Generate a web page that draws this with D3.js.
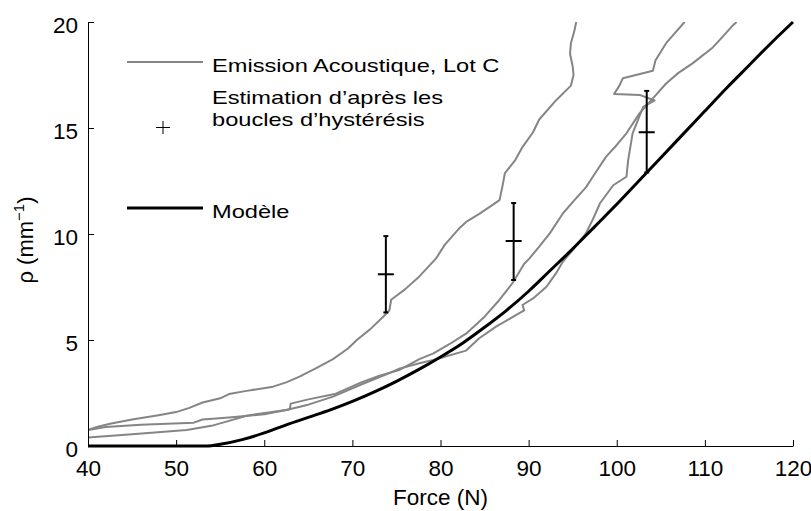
<!DOCTYPE html>
<html>
<head>
<meta charset="utf-8">
<script src="https://cdn.jsdelivr.net/npm/d3@7.9.0/dist/d3.min.js"></script>
<style>
  body { margin: 0; background: #fff; }
  svg { display: block; font-family: "Liberation Sans", Arial, sans-serif; }
</style>
</head>
<body>
<svg id="chart" width="811" height="511"></svg>
<script>
// axis ticks
const forceTicks = [40, 50, 60, 70, 80, 90, 100, 110, 120];
const rhoTicks = [0, 5, 10, 15, 20];

// acoustic emission curves, [force, rho]
const curveA = [[40,0.75],[41,0.9],[42.5,1.05],[45,1.25],[48,1.45],[50,1.6],[51.5,1.8],[53,2.05],[55,2.25],[56,2.45],
  [58,2.6],[61,2.8],[62.5,3.0],[64,3.27],[66,3.7],[67.8,4.1],[69.5,4.6],[70.5,5.0],[72,5.5],[73.5,6.1],[74.2,6.4],
  [74.4,6.9],[76,7.4],[77.6,8.0],[79.5,8.85],[80.5,9.5],[82.2,10.3],[83,10.6],[84.4,10.95],[86,11.4],[86.7,11.6],
  [87.1,12.4],[87.3,12.86],[88.5,13.5],[89.3,14.1],[90.5,14.8],[91.2,15.4],[93.1,16.3],[94.8,17.0],[95.1,17.5],
  [95.0,17.9],[94.7,18.5],[94.8,19.0],[95.2,19.6],[95.4,20]];
const curveB = [[40,0.75],[42,0.9],[46,1.0],[52,1.1],[53,1.25],[56,1.35],[60,1.5],[62.9,1.73],[63,2.0],[65,2.2],
  [68,2.45],[71,3.0],[73,3.3],[75.4,3.6],[77.6,4.1],[79.2,4.37],[81,4.8],[82.9,5.3],[85,6.1],[86.7,6.9],[88.2,7.7],
  [89.5,8.6],[90.1,8.85],[91.2,9.4],[92.4,10.03],[93.9,10.98],[95.2,11.6],[96.5,12.2],[97.6,12.9],[98.8,13.65],
  [100,14.2],[101.1,14.75],[102.6,15.7],[104.1,16.4],[105.6,17.1],[107,17.6],[108.6,18.05],[110.9,18.8],
  [112,19.3],[113.2,19.85],[113.6,20]];
const curveC = [[40,0.4],[45,0.55],[51.2,0.75],[54,0.95],[55.7,1.15],[58,1.43],[62.5,1.7],[65,1.95],[67.8,2.33],
  [71,2.9],[74,3.4],[75.4,3.66],[77.6,3.9],[79.2,4.06],[82.9,4.5],[84.4,5.08],[86.3,5.63],[88.6,6.18],[89.5,6.4],
  [89.3,6.65],[90.5,6.96],[92,7.5],[93.1,8.14],[93.9,8.7],[95,9.25],[96.5,10.03],[97.3,10.7],[98.1,11.45],
  [99.6,12.3],[101.1,12.7],[101.3,13.5],[101.8,14.75],[103,16.0],[104.3,16.3],[102.6,16.56],[99.7,16.6],
  [100.3,17.0],[100.7,17.35],[104.1,17.7],[104.4,18.2],[105.6,19.0],[107.7,20]];

// model curve
const modelForce = [40, 53.5, 55, 57.5, 60, 62.5, 65, 67.5, 70, 72.5, 75, 77.5, 80, 82.5, 85, 87.5, 90, 92.5, 95,
  97.5, 100, 102.5, 105, 107.5, 110, 112.5, 115, 117.5, 120];
const modelRho = [0, 0, 0.08, 0.3, 0.62, 1.0, 1.35, 1.7, 2.1, 2.55, 3.05, 3.6, 4.2, 4.85, 5.6, 6.4, 7.3, 8.3, 9.3,
  10.35, 11.4, 12.5, 13.6, 14.7, 15.8, 16.9, 17.95, 19.0, 20];

// estimates from the hysteresis loops
const estForce = [73.8, 88.3, 103.4];
const estRho = [8.1, 9.67, 14.8];
const estLow = [6.3, 7.83, 12.9];
const estHigh = [9.9, 11.46, 16.75];

const legendLabels = ["Emission Acoustique, Lot C", ["Estimation d\u2019après les", "boucles d\u2019hystérésis"], "Modèle"];

const svg = d3.select('#chart');
const x = d3.scaleLinear().domain([40, 120]).range([88, 793]);
const y = d3.scaleLinear().domain([0, 20]).range([446, 22]);

svg.append('clipPath').attr('id', 'plot-clip')
  .append('rect').attr('x', 88).attr('y', 22).attr('width', 705).attr('height', 424);

const plot = svg.append('g').attr('clip-path', 'url(#plot-clip)');
const line = d3.line().x(d => x(d[0])).y(d => y(d[1]));

[curveA, curveB, curveC].forEach(c => {
  plot.append('path')
    .attr('d', line(c))
    .attr('fill', 'none')
    .attr('stroke', '#858585')
    .attr('stroke-width', 2)
    .attr('stroke-linejoin', 'round');
});

const model = modelForce.map((f, i) => [f, modelRho[i]]);
svg.append('path')
  .attr('d', d3.line().x(d => x(d[0])).y(d => y(d[1])).curve(d3.curveMonotoneX)(model))
  .attr('fill', 'none')
  .attr('stroke', '#000')
  .attr('stroke-width', 3);

// error bars with + marks
const bars = svg.append('g').attr('stroke', '#000');
estForce.forEach((f, i) => {
  const cx = x(f);
  bars.append('line').attr('x1', cx).attr('x2', cx).attr('y1', y(estLow[i])).attr('y2', y(estHigh[i]))
    .attr('stroke-width', 2);
  [estLow[i], estHigh[i]].forEach(v => {
    bars.append('line').attr('x1', cx - 2.5).attr('x2', cx + 2.5).attr('y1', y(v)).attr('y2', y(v))
      .attr('stroke-width', 2);
  });
  bars.append('line').attr('x1', cx - 8).attr('x2', cx + 8).attr('y1', y(estRho[i])).attr('y2', y(estRho[i]))
    .attr('stroke-width', 2);
});

// axes
const xAxis = svg.append('g').attr('transform', 'translate(0,446)')
  .call(d3.axisBottom(x).tickValues(forceTicks).tickSizeInner(-6).tickSizeOuter(0).tickPadding(14));
const yAxis = svg.append('g').attr('transform', 'translate(88,0)')
  .call(d3.axisLeft(y).tickValues(rhoTicks).tickSizeInner(-6).tickSizeOuter(0).tickPadding(10));
[xAxis, yAxis].forEach(a => {
  a.attr('font-family', null).attr('font-size', null);
  a.selectAll('text').attr('font-size', 22.5).attr('fill', '#000');
  a.selectAll('line, path').attr('stroke', '#000').attr('stroke-width', 1);
});
yAxis.selectAll('text').attr('dy', '0.47em');

svg.append('text')
  .attr('x', 440.5).attr('y', 505)
  .attr('text-anchor', 'middle')
  .attr('font-size', 22.5)
  .text('Force (N)');

const yl = svg.append('text')
  .attr('transform', 'translate(33,240) rotate(-90)')
  .attr('text-anchor', 'middle')
  .attr('font-size', 22);
yl.append('tspan').text('\u03c1 (mm');
yl.append('tspan').attr('font-size', 15).attr('dy', -9).text('\u22121');
yl.append('tspan').attr('dy', 9).text(')');

// legend
const lg = svg.append('g');
lg.append('line').attr('x1', 127).attr('x2', 203).attr('y1', 62).attr('y2', 62)
  .attr('stroke', '#858585').attr('stroke-width', 2);
lg.append('line').attr('x1', 156).attr('x2', 170).attr('y1', 127.5).attr('y2', 127.5)
  .attr('stroke', '#000').attr('stroke-width', 1);
lg.append('line').attr('x1', 163).attr('x2', 163).attr('y1', 121).attr('y2', 134)
  .attr('stroke', '#000').attr('stroke-width', 1);
lg.append('line').attr('x1', 127).attr('x2', 203).attr('y1', 208).attr('y2', 208)
  .attr('stroke', '#000').attr('stroke-width', 3);

function legendText(str, tx, ty) {
  lg.append('text')
    .attr('transform', `translate(${tx},${ty}) scale(1.27,1)`)
    .attr('font-size', 18.6)
    .text(str);
}
legendText(legendLabels[0], 212, 72);
legendText(legendLabels[1][0], 212, 103.5);
legendText(legendLabels[1][1], 212, 126);
legendText(legendLabels[2], 212, 218.3);
</script>
</body>
</html>
